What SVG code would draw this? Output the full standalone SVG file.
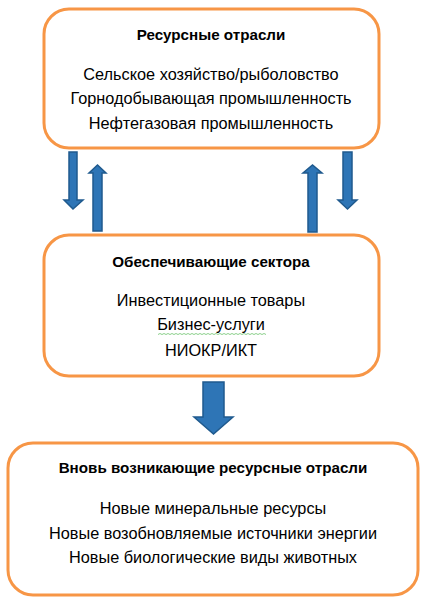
<svg xmlns="http://www.w3.org/2000/svg" width="432" height="600" viewBox="0 0 432 600">
<style>
.box{fill:#fff;stroke:#F79646;stroke-width:3}
.t{font-family:"Liberation Sans",Arial,sans-serif;font-size:16.3px;fill:#000;text-anchor:middle}
.b{font-weight:bold;font-size:15.2px}
.arr{fill:#2E75B6;stroke:#1F5A8E;stroke-width:1.5;stroke-linejoin:miter}
</style>
<rect width="432" height="600" fill="#fff"/>
<g id="connectors">
<path class="arr" d="M69,152 H77 V200 H83 L73,209 L64,200 H69 Z"/>
<path class="arr" d="M93,231 H102 V173 H106 L97.5,165 L89,173 H93 Z"/>
<path class="arr" d="M308,232 H317 V173 H322 L312.5,165 L303,173 H308 Z"/>
<path class="arr" d="M343,152 H352 V200 H357 L347.5,209 L338,200 H343 Z"/>
<path class="arr" d="M203,382 H224 V417 H233 L213.5,434 L194,417 H203 Z"/>
</g>
<g id="node1">
<rect class="box" x="44" y="9" width="335" height="139" rx="25"/>
<text class="t b" x="211" y="40">Ресурсные отрасли</text>
<text class="t" x="211" y="80">Сельское хозяйство/рыболовство</text>
<text class="t" x="211" y="104">Горнодобывающая промышленность</text>
<text class="t" x="211" y="129">Нефтегазовая промышленность</text>
</g>
<g id="node2">
<rect class="box" x="44" y="235" width="335" height="141" rx="25"/>
<text class="t b" x="211" y="267">Обеспечивающие сектора</text>
<text class="t" x="211" y="306">Инвестиционные товары</text>
<text class="t" x="211" y="330">Бизнес-услуги</text>
<path d="M158,334.5 l2,-1 l2,1 l2,-1 l2,1 l2,-1 l2,1 l2,-1 l2,1 l2,-1 l2,1 l2,-1 l2,1 l2,-1 l2,1 l2,-1 l2,1 l2,-1 l2,1 l2,-1 l2,1 l2,-1 l2,1 l2,-1 l2,1 l2,-1 l2,1 l2,-1 l2,1 l2,-1 l2,1 l2,-1 l2,1 l2,-1 l2,1 l2,-1 l2,1 l2,-1 l2,1 l2,-1 l2,1 l2,-1 l2,1 l2,-1 l2,1 l2,-1 l2,1 l2,-1 l2,1 l2,-1 l2,1 l2,-1 l2,1 l2,-1 l2,1" fill="none" stroke="#6CC36C" stroke-width="0.8"/>
<text class="t" x="211" y="356">НИОКР/ИКТ</text>
</g>
<g id="node3">
<rect class="box" x="8" y="443" width="410" height="152" rx="25"/>
<text class="t b" x="213" y="473">Вновь возникающие ресурсные отрасли</text>
<text class="t" x="213" y="514">Новые минеральные ресурсы</text>
<text class="t" x="213" y="539">Новые возобновляемые источники энергии</text>
<text class="t" x="213" y="563">Новые биологические виды животных</text>
</g>
</svg>
